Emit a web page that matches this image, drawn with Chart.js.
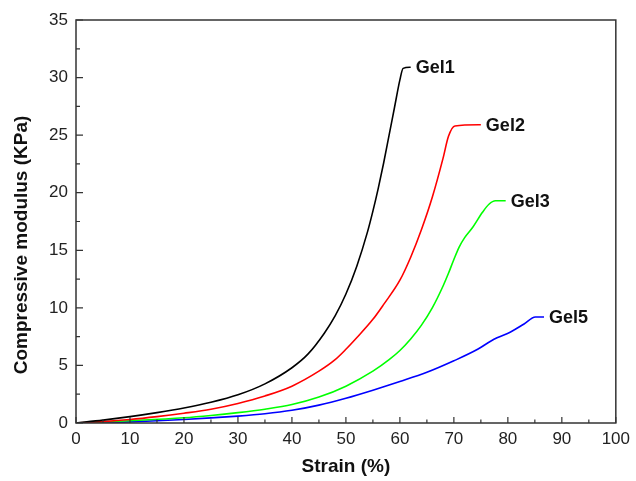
<!DOCTYPE html>
<html>
<head>
<meta charset="utf-8">
<script src="https://cdn.jsdelivr.net/npm/chart.js@4.4.1/dist/chart.umd.min.js"></script>
<style>
html,body{margin:0;padding:0;background:#fff;}
#wrap{width:636px;height:481px;}
</style>
</head>
<body>
<div id="wrap"><canvas id="c" width="636" height="481"></canvas></div>
<script>
// ---- data ----
const seriesNames = ["Gel1", "Gel2", "Gel3", "Gel5"];
const seriesColors = ["#000000", "#ff0000", "#00ff00", "#0000ff"];

const gel1Strain  = [0, 5, 10, 15, 20, 25, 30, 35, 40, 43, 46, 48, 50, 52, 54, 55, 56, 57, 58, 59, 60, 60.6, 62];
const gel1Modulus = [0, 0.25, 0.55, 0.9, 1.3, 1.8, 2.45, 3.4, 4.8, 6.0, 7.8, 9.3, 11.2, 13.6, 16.6, 18.4, 20.4, 22.6, 25.0, 27.4, 29.8, 30.8, 30.9];

const gel2Strain  = [0, 5, 10, 15, 20, 25, 30, 35, 40, 45, 48, 50, 52, 55, 57, 60, 62, 64, 66, 68, 69, 70.2, 75];
const gel2Modulus = [0, 0.12, 0.3, 0.55, 0.85, 1.2, 1.7, 2.35, 3.2, 4.5, 5.5, 6.4, 7.4, 9.0, 10.3, 12.4, 14.4, 16.8, 19.6, 23.0, 24.9, 25.8, 25.9];

const gel3Strain  = [0, 10, 20, 25, 30, 35, 40, 45, 50, 55, 58, 60, 62, 64, 66, 68, 69, 70, 71, 72, 73.5, 75.3, 76.5, 77.7, 79.6];
const gel3Modulus = [0, 0.2, 0.45, 0.65, 0.9, 1.2, 1.6, 2.25, 3.2, 4.5, 5.5, 6.3, 7.3, 8.5, 10.0, 11.9, 13.0, 14.2, 15.3, 16.1, 17.0, 18.3, 19.0, 19.3, 19.3];

const gel5Strain  = [0, 10, 20, 30, 35, 40, 45, 50, 55, 60, 65, 70, 74.4, 76.8, 78, 80.5, 83, 85.1, 86.7];
const gel5Modulus = [0, 0.1, 0.3, 0.6, 0.8, 1.1, 1.55, 2.15, 2.85, 3.6, 4.4, 5.4, 6.4, 7.1, 7.4, 7.9, 8.6, 9.2, 9.2];

const xTicks = [0, 10, 20, 30, 40, 50, 60, 70, 80, 90, 100];
const yTicks = [0, 5, 10, 15, 20, 25, 30, 35];
const xTitle = "Strain (%)";
const yTitle = "Compressive modulus (KPa)";

const strains = [gel1Strain, gel2Strain, gel3Strain, gel5Strain];
const moduli = [gel1Modulus, gel2Modulus, gel3Modulus, gel5Modulus];

const datasets = seriesNames.map((name, i) => ({
  label: name,
  data: strains[i].map((x, j) => ({x: x, y: moduli[i][j]})),
  borderColor: seriesColors[i],
  backgroundColor: seriesColors[i],
  borderWidth: 1.6,
  pointRadius: 0,
  cubicInterpolationMode: 'monotone',
  fill: false
}));

const FONT = "'Liberation Sans', Arial, sans-serif";

const framePlugin = {
  id: 'frame',
  afterDraw(chart) {
    const {ctx, chartArea: a, scales: {x, y}} = chart;
    ctx.save();
    ctx.strokeStyle = '#333';
    ctx.lineWidth = 1.5;
    ctx.strokeRect(a.left, a.top, a.right - a.left, a.bottom - a.top);
    ctx.lineWidth = 1.2;
    ctx.beginPath();
    for (let v = 0; v <= 100; v += 5) {
      const px = x.getPixelForValue(v);
      const len = (v % 10 === 0) ? 6 : 3.5;
      ctx.moveTo(px, a.bottom);
      ctx.lineTo(px, a.bottom - len);
    }
    for (let v = 0; v <= 35; v += 2.5) {
      const py = y.getPixelForValue(v);
      const len = (v % 5 === 0) ? 7 : 4;
      ctx.moveTo(a.left, py);
      ctx.lineTo(a.left + len, py);
    }
    ctx.stroke();

    ctx.fillStyle = '#111';
    ctx.font = 'bold 18px ' + FONT;
    ctx.textAlign = 'left';
    ctx.textBaseline = 'middle';
    chart.data.datasets.forEach((ds) => {
      const last = ds.data[ds.data.length - 1];
      ctx.fillText(ds.label, x.getPixelForValue(last.x) + 5, y.getPixelForValue(last.y) + 1);
    });

    ctx.font = 'bold 19px ' + FONT;
    ctx.textAlign = 'center';
    ctx.textBaseline = 'middle';
    ctx.translate(22, 245);
    ctx.rotate(-Math.PI / 2);
    ctx.fillText(yTitle, 0, 0);
    ctx.restore();
  }
};

new Chart(document.getElementById('c'), {
  type: 'line',
  data: { datasets: datasets },
  options: {
    responsive: false,
    animation: false,
    events: [],
    layout: { padding: { left: 0, right: 17, top: 20, bottom: 0 } },
    plugins: { legend: { display: false }, tooltip: { enabled: false } },
    scales: {
      x: {
        type: 'linear',
        min: 0, max: 100,
        afterBuildTicks(s) { s.ticks = xTicks.map(v => ({value: v})); },
        afterFit(s) { s.height = 58; },
        grid: { display: false, drawTicks: false },
        border: { display: false },
        ticks: { color: '#222', font: { family: FONT, size: 17 }, padding: 6, maxRotation: 0 },
        title: { display: true, text: xTitle, color: '#111', font: { family: FONT, size: 19, weight: 'bold' }, padding: { top: 0, bottom: 3 } }
      },
      y: {
        type: 'linear',
        min: 0, max: 35,
        afterBuildTicks(s) { s.ticks = yTicks.map(v => ({value: v})); },
        afterFit(s) { s.width = 76; },
        grid: { display: false, drawTicks: false },
        border: { display: false },
        ticks: { color: '#222', font: { family: FONT, size: 17 }, padding: 8 },
        title: { display: false }
      }
    }
  },
  plugins: [framePlugin]
});
</script>
</body>
</html>
